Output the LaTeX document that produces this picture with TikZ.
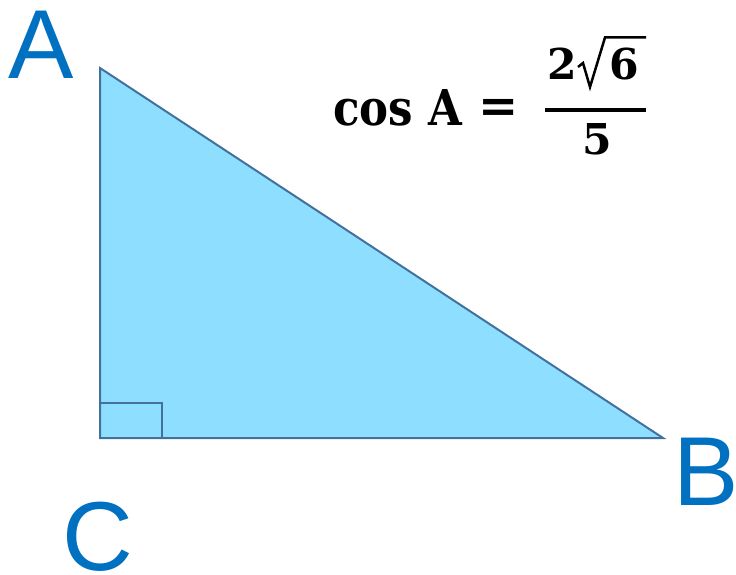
\documentclass[tikz,border=0pt]{standalone}
\usepackage{fontspec}
\newfontfamily\labfont{Liberation Sans}
\newfontfamily\frmfont[FakeStretch=0.88]{DejaVu Serif}
\newfontfamily\digfont{DejaVu Serif}
\definecolor{labblue}{HTML}{0070C0}
\definecolor{trifill}{HTML}{8EDFFF}
\definecolor{tristroke}{HTML}{41719C}
\begin{document}
\begin{tikzpicture}[x=1pt,y=-1pt,
  vlabel/.style={text=labblue,font=\labfont\fontsize{98}{100}\selectfont,inner sep=0pt},
  frm/.style={font=\frmfont\bfseries\fontsize{49.4}{55}\selectfont,inner sep=0pt},
  eqs/.style={font=\digfont\bfseries\fontsize{48}{55}\selectfont,inner sep=0pt},
  dig/.style={font=\digfont\bfseries\fontsize{42.5}{50}\selectfont,inner sep=0pt},
  triline/.style={draw=tristroke,line width=2pt,line join=miter}]
\useasboundingbox (0,0) rectangle (736,575);
\coordinate (A) at (100,68);
\coordinate (C) at (100,438);
\coordinate (B) at (663,438);
\coordinate (R) at (162,403);
\filldraw[triline,fill=trifill] (A) -- (B) -- (C) -- cycle;
\draw[triline] (C |- R) -- (R) -- (R |- C);
\node[vlabel] (la) at (41,44.5) {A};
\node[vlabel,inner xsep=-4pt] (lb) at (706.5,471.5) {B};
\node[vlabel,inner ysep=-3pt] (lc) at (97.5,536.5) {C};
\node[frm,anchor=base west] (cosa) at (333,125) {cos A};
\node[eqs] (eq) at (498.5,110.5) {=};
\node[dig] (n2) at (562,64) {2};
\node[dig] (n6) at (624,64.5) {6};
\node[dig] (d5) at (597,139.5) {5};
\coordinate (fl) at (545,110);
\coordinate (fr) at (646,110);
\draw[line width=3.5pt] (fl) -- (fr);
\coordinate (r1) at (578,67);
\coordinate (r2) at (583,63);
\coordinate (r3) at (590,87);
\coordinate (r4) at (605,37.5);
\coordinate (r5) at (646,37.5);
\draw[line width=2.5pt,line join=miter] (r1) -- (r2) -- (r3) -- (r4) -- (r5);
\end{tikzpicture}
\end{document}
